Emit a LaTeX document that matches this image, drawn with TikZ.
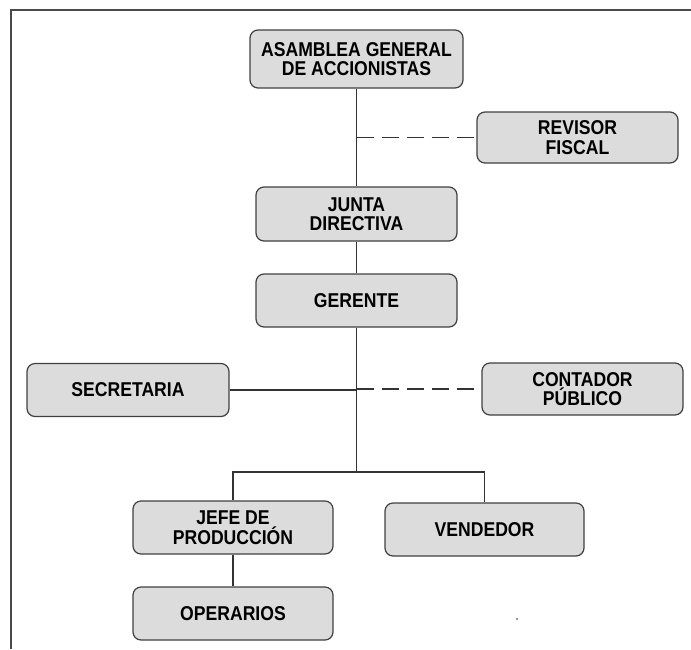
\documentclass[tikz,border=0pt]{standalone}
\usepackage{fontspec}
\setmainfont{Liberation Sans}
\newfontfamily\boxfont[FakeStretch=0.88]{Liberation Sans}
\definecolor{boxfill}{HTML}{DCDCDC}
\definecolor{boxline}{HTML}{404040}
\definecolor{conn}{HTML}{333333}
\definecolor{frame}{HTML}{4A4A4A}
\begin{document}
\begin{tikzpicture}[x=1pt,y=-1pt,
  box/.style={draw=boxline, fill=boxfill, rounded corners=8pt, line width=1.2pt,
    inner sep=0pt, align=center, text=black,
    font=\boxfont\fontsize{20}{19.5}\selectfont\bfseries},
  link/.style={draw=conn, line width=1.3pt},
  dlink/.style={link, dash pattern=on 17pt off 8pt}]
\useasboundingbox (0,0) rectangle (691,649);
\draw[line width=2pt, frame] (691,9.5) -- (11,9.5) -- (11,649);

\node[box, minimum width=213, minimum height=58] (asam) at (356.5,59) {ASAMBLEA GENERAL\\DE ACCIONISTAS};
\node[box, minimum width=201, minimum height=51] (rev) at (577.5,137.5) {REVISOR\\FISCAL};
\node[box, minimum width=201, minimum height=54] (junta) at (356.5,214) {JUNTA\\DIRECTIVA};
\node[box, minimum width=201, minimum height=53] (ger) at (356.5,300.5) {GERENTE};
\node[box, minimum width=202, minimum height=53] (sec) at (128,390) {SECRETARIA};
\node[box, minimum width=201, minimum height=52] (cont) at (582.5,389) {CONTADOR\\PÚBLICO};
\node[box, minimum width=200, minimum height=53] (jefe) at (233,527.5) {JEFE DE\\PRODUCCIÓN};
\node[box, minimum width=199, minimum height=53] (vend) at (484.5,529.5) {VENDEDOR};
\node[box, minimum width=200, minimum height=53] (oper) at (233,613.5) {OPERARIOS};

\coordinate (b) at (356.5,472);
\draw[link] (asam.south) -- (junta.north);
\draw[dlink] (asam.south |- rev.west) -- (rev.west);
\draw[link] (junta.south) -- (ger.north);
\draw[link] (ger.south) -- (b);
\draw[link] (sec.east) -- (ger.south |- sec.east);
\draw[dlink] (ger.south |- cont.west) -- (cont.west);
\draw[link] (jefe.north) -- (jefe.north |- b) -- (vend.north |- b) -- (vend.north);
\draw[link] (jefe.south) -- (oper.north);
\fill[conn] (517,619) circle (0.8pt);
\end{tikzpicture}
\end{document}
